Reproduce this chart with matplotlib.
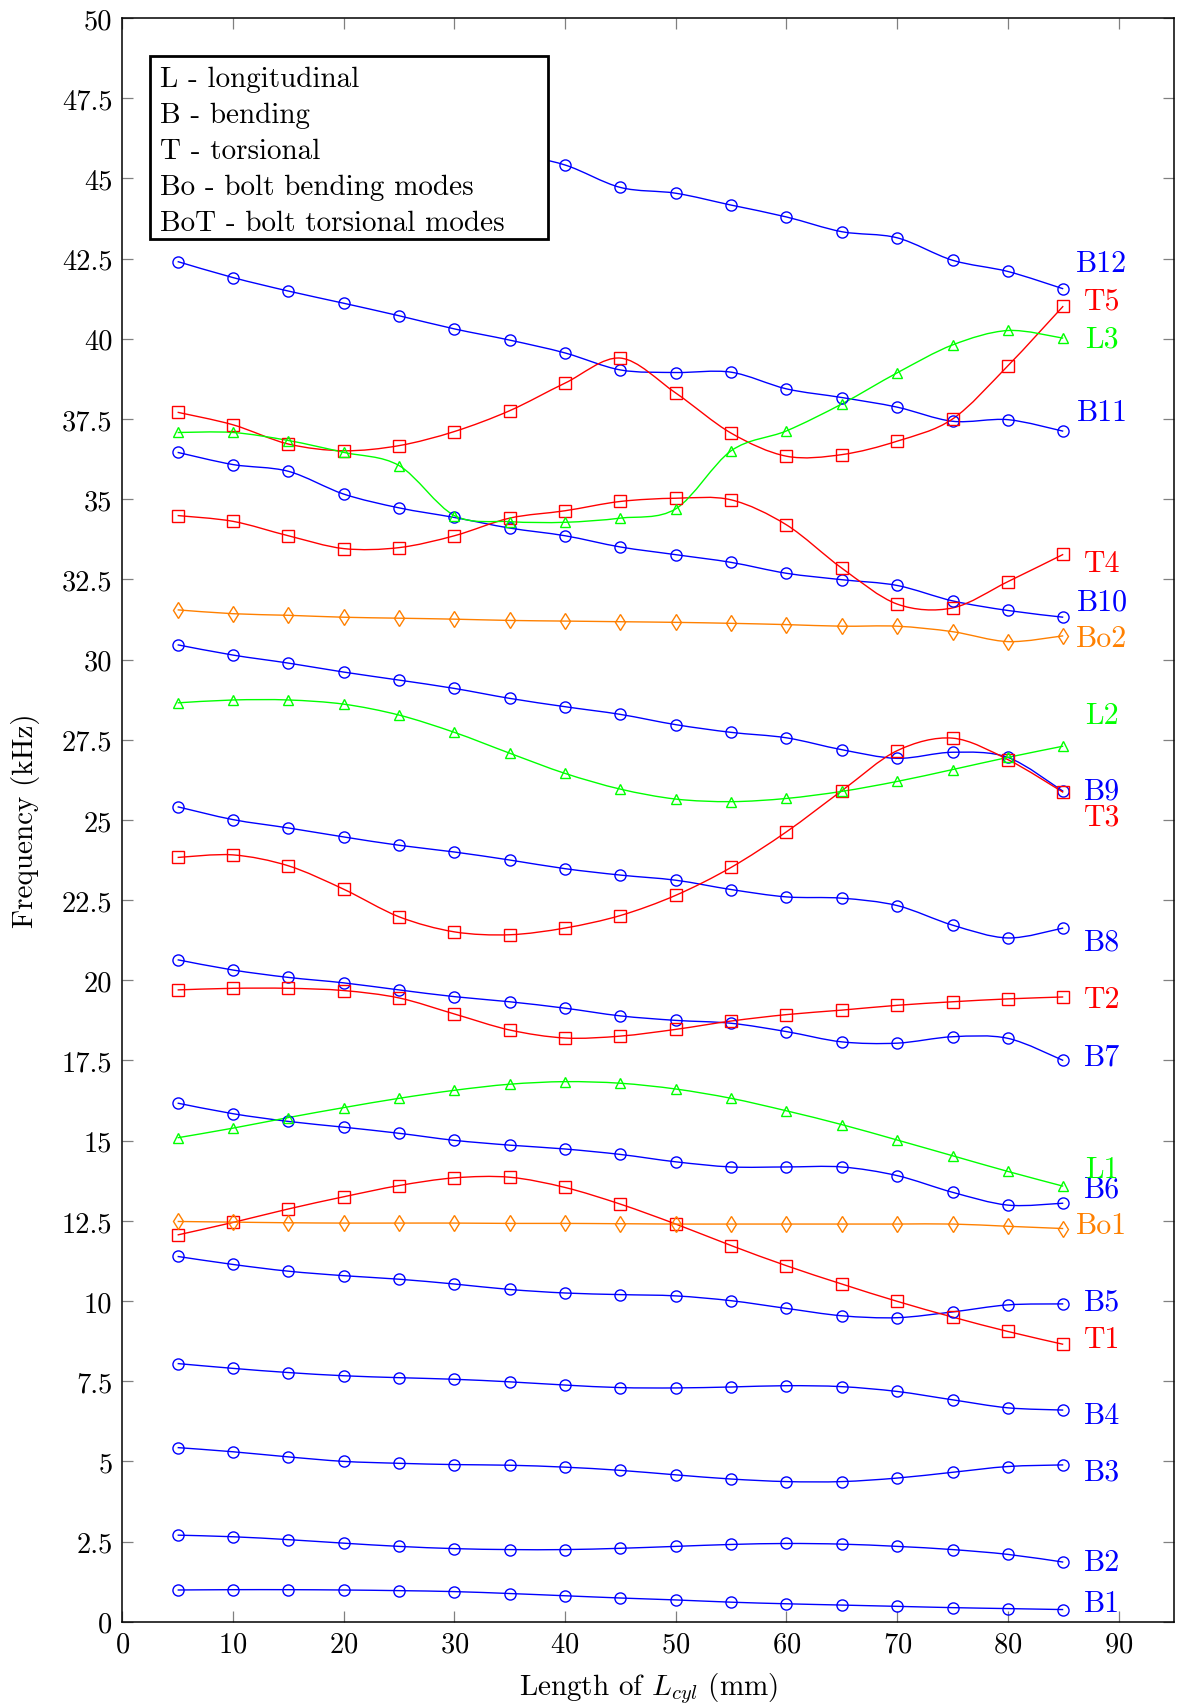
import numpy as np
import matplotlib
matplotlib.use('Agg')
import matplotlib.pyplot as plt
from matplotlib.path import Path
from matplotlib.patches import PathPatch, Rectangle

plt.rcParams['font.family'] = 'serif'
plt.rcParams['font.serif'] = ['cmr10']
plt.rcParams['mathtext.fontset'] = 'cm'
plt.rcParams['axes.formatter.use_mathtext'] = True

# cylinder length (mm)
L_cyl = [5, 10, 15, 20, 25, 30, 35, 40, 45, 50, 55, 60, 65, 70, 75, 80, 85]

# frequencies (kHz)
B1 = [0.99, 1.0, 1.0, 0.99, 0.97, 0.94, 0.88, 0.81, 0.74, 0.68, 0.61, 0.56, 0.52, 0.48, 0.44, 0.41, 0.38]
B2 = [2.70, 2.65, 2.56, 2.45, 2.35, 2.28, 2.25, 2.25, 2.29, 2.35, 2.41, 2.44, 2.42, 2.35, 2.25, 2.10, 1.86]
B3 = [5.43, 5.30, 5.14, 5.00, 4.94, 4.90, 4.88, 4.82, 4.72, 4.58, 4.45, 4.37, 4.37, 4.48, 4.66, 4.84, 4.89]
B4 = [8.05, 7.90, 7.77, 7.67, 7.61, 7.56, 7.48, 7.38, 7.30, 7.29, 7.32, 7.36, 7.33, 7.18, 6.92, 6.67, 6.60]
B5 = [11.39, 11.14, 10.93, 10.79, 10.68, 10.53, 10.36, 10.25, 10.20, 10.16, 10.01, 9.77, 9.54, 9.48, 9.66, 9.88, 9.91]
B6 = [16.17, 15.84, 15.60, 15.42, 15.23, 15.01, 14.86, 14.74, 14.57, 14.34, 14.18, 14.18, 14.18, 13.91, 13.39, 12.99, 13.05]
B7 = [20.64, 20.32, 20.09, 19.92, 19.70, 19.49, 19.33, 19.13, 18.89, 18.75, 18.66, 18.40, 18.08, 18.04, 18.24, 18.19, 17.50]
B8 = [25.41, 25.01, 24.75, 24.47, 24.21, 24.00, 23.75, 23.48, 23.28, 23.12, 22.83, 22.60, 22.56, 22.33, 21.72, 21.32, 21.63]
B9 = [30.46, 30.14, 29.89, 29.61, 29.36, 29.10, 28.79, 28.53, 28.29, 27.97, 27.73, 27.56, 27.19, 26.92, 27.11, 26.95, 25.89]
B10 = [36.46, 36.08, 35.87, 35.16, 34.73, 34.43, 34.10, 33.86, 33.51, 33.27, 33.03, 32.69, 32.49, 32.31, 31.83, 31.53, 31.32]
B11 = [42.41, 41.91, 41.49, 41.11, 40.72, 40.31, 39.96, 39.56, 39.03, 38.95, 38.96, 38.44, 38.17, 37.87, 37.43, 37.48, 37.12]
B12 = [47.6, 47.3, 47.0, 46.7, 46.4, 46.1, 45.8, 45.42, 44.72, 44.54, 44.17, 43.80, 43.34, 43.15, 42.45, 42.10, 41.56]
T1 = [12.06, 12.45, 12.87, 13.25, 13.60, 13.84, 13.86, 13.54, 13.02, 12.40, 11.73, 11.10, 10.53, 9.99, 9.50, 9.05, 8.65]
T2 = [19.70, 19.75, 19.75, 19.68, 19.45, 18.95, 18.45, 18.20, 18.26, 18.47, 18.73, 18.93, 19.07, 19.22, 19.33, 19.42, 19.48]
T3 = [23.83, 23.91, 23.57, 22.84, 21.98, 21.51, 21.42, 21.63, 22.02, 22.65, 23.52, 24.63, 25.91, 27.16, 27.55, 26.88, 25.86]
T4 = [34.49, 34.31, 33.86, 33.46, 33.49, 33.86, 34.41, 34.64, 34.93, 35.03, 34.98, 34.20, 32.85, 31.73, 31.61, 32.43, 33.28]
T5 = [37.71, 37.32, 36.72, 36.51, 36.67, 37.11, 37.76, 38.62, 39.40, 38.31, 37.06, 36.34, 36.39, 36.81, 37.50, 39.16, 41.02]
L1 = [15.09, 15.39, 15.72, 16.03, 16.32, 16.57, 16.76, 16.84, 16.79, 16.61, 16.32, 15.93, 15.50, 15.02, 14.53, 14.04, 13.58]
L2 = [28.65, 28.74, 28.74, 28.61, 28.27, 27.73, 27.08, 26.45, 25.96, 25.65, 25.57, 25.67, 25.89, 26.20, 26.57, 26.95, 27.30]
L3 = [37.08, 37.08, 36.83, 36.46, 36.05, 34.49, 34.30, 34.28, 34.41, 34.70, 36.51, 37.13, 37.97, 38.94, 39.81, 40.26, 40.02]
Bo1 = [12.48, 12.46, 12.44, 12.43, 12.43, 12.43, 12.42, 12.42, 12.41, 12.40, 12.40, 12.40, 12.40, 12.40, 12.40, 12.33, 12.26]
Bo2 = [31.55, 31.43, 31.38, 31.32, 31.29, 31.26, 31.22, 31.20, 31.18, 31.16, 31.13, 31.09, 31.04, 31.04, 30.87, 30.56, 30.74]

legend_lines = ['L - longitudinal', 'B - bending', 'T - torsional',
                'Bo - bolt bending modes', 'BoT - bolt torsional modes']

blue, red, green, orange = '#0000ff', '#ff0000', '#00ff00', '#ff8000'
style = {'B': (blue, 'o', 8), 'T': (red, 's', 8), 'L': (green, '^', 7), 'Bo': (orange, 'd', 8.5)}

series = [('B1', B1), ('B2', B2), ('B3', B3), ('B4', B4), ('B5', B5), ('B6', B6),
          ('B7', B7), ('B8', B8), ('B9', B9), ('B10', B10), ('B11', B11), ('B12', B12),
          ('T1', T1), ('T2', T2), ('T3', T3), ('T4', T4), ('T5', T5),
          ('L1', L1), ('L2', L2), ('L3', L3), ('Bo1', Bo1), ('Bo2', Bo2)]

# where the mode names sit on the right
label_y = {'B12': 42.35, 'T5': 41.2, 'L3': 40.0, 'B11': 37.7, 'T4': 33.0, 'B10': 31.8,
           'Bo2': 30.65, 'L2': 28.25, 'B9': 25.9, 'T3': 25.1, 'B8': 21.2, 'T2': 19.4,
           'B7': 17.6, 'L1': 14.1, 'B6': 13.5, 'Bo1': 12.35, 'B5': 9.97, 'T1': 8.8,
           'B4': 6.45, 'B3': 4.68, 'B2': 1.85, 'B1': 0.58}


def smooth_path(xs, ys, k=0.16):
    # cubic bezier through the points (like tikz "smooth")
    pts = np.column_stack([xs, ys]).astype(float)
    n = len(pts)
    verts = [pts[0]]
    codes = [Path.MOVETO]
    for i in range(n - 1):
        p0 = pts[i - 1] if i > 0 else pts[i]
        p1 = pts[i]
        p2 = pts[i + 1]
        p3 = pts[i + 2] if i + 2 < n else pts[i + 1]
        verts += [p1 + k * (p2 - p0), p2 - k * (p3 - p1), p2]
        codes += [Path.CURVE4] * 3
    return Path(verts, codes)


fig = plt.figure(figsize=(11.87, 17.06), dpi=100)
ax = fig.add_axes([0.103, 0.0488, 0.886, 0.94])

for name, vals in series:
    key = name.rstrip('0123456789')
    col, mk, ms = style[key]
    ax.add_patch(PathPatch(smooth_path(L_cyl, vals), fc='none', ec=col, lw=1.0, zorder=2))
    ax.plot(L_cyl, vals, ls='none', marker=mk, ms=ms, mfc='none', mec=col, mew=1.0, zorder=3)
    ax.text(88.5, label_y[name], name, color=col, fontsize=21.5, ha='center', va='center')

ax.set_xlim(0, 95)
ax.set_ylim(0, 50)
ax.set_xticks(np.arange(0, 91, 10))
ax.set_yticks(np.arange(0, 50.1, 2.5))
ax.set_yticklabels(['{:g}'.format(v) for v in np.arange(0, 50.1, 2.5)])
ax.tick_params(direction='in', length=8, width=0.9, color='#808080', labelsize=20.5,
               top=True, right=True, pad=7)
for s in ax.spines.values():
    s.set_linewidth(1.1)

ax.set_xlabel('Length of $L_{cyl}$ (mm)', fontsize=21, labelpad=9)
ax.set_ylabel('Frequency (kHz)', fontsize=21, labelpad=16)

# explanation box
ax.add_patch(Rectangle((2.5, 43.12), 36.0, 5.71, fc='white', ec='black', lw=2.0, zorder=10))
for i, line in enumerate(legend_lines):
    ax.text(3.4, 47.88 - i * 1.123, line, fontsize=21, va='baseline', ha='left', zorder=11)

fig.savefig('out.png', dpi=100)
